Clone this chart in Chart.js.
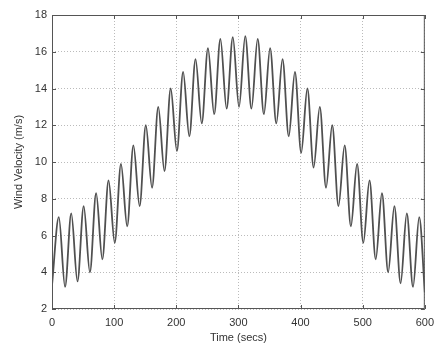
<!DOCTYPE html>
<html>
<head>
<meta charset="utf-8">
<script src="https://cdn.jsdelivr.net/npm/chart.js@4"></script>
<style>
  html, body { margin: 0; padding: 0; background: #fff; }
  #wrap { width: 441px; height: 349px; }
</style>
</head>
<body>
<div id="wrap"><canvas id="windChart" width="441" height="349"></canvas></div>
<script>
// peaks and troughs (time in secs, velocity in m/s)
const times = [0, 11, 21, 31, 41, 51, 61, 71, 81, 91, 101, 111, 121, 131, 141, 151, 161, 171, 181, 191,
  201, 211, 221, 231, 241, 251, 261, 271, 281, 291, 301, 311, 321, 331, 341, 351, 361, 371, 381, 391,
  401, 411, 421, 431, 441, 451, 461, 471, 481, 491, 501, 511, 521, 531, 541, 551, 561, 571, 581, 591, 600];
const velocity = [3.3, 7.0, 3.2, 7.2, 3.5, 7.6, 4.0, 8.3, 4.7, 9.0, 5.6, 9.9, 6.5, 10.9, 7.6, 12.0, 8.6, 13.0, 9.5, 14.0,
  10.6, 14.9, 11.4, 15.6, 12.1, 16.2, 12.6, 16.7, 12.9, 16.8, 13.0, 16.85, 12.9, 16.7, 12.6, 16.2, 12.1, 15.6, 11.4, 14.9,
  10.5, 14.0, 9.7, 13.0, 8.6, 12.0, 7.6, 10.9, 6.5, 9.9, 5.6, 9.0, 4.7, 8.3, 4.0, 7.6, 3.4, 7.2, 3.2, 7.0, 2.9];
const xTicks = [0, 100, 200, 300, 400, 500, 600];
const yTicks = [2, 4, 6, 8, 10, 12, 14, 16, 18];

const points = times.map((t, i) => ({ x: t, y: velocity[i] }));

// box round the plot area plus small inward ticks, like matlab
const boxPlugin = {
  id: "box",
  afterDraw(chart) {
    const { ctx, chartArea: a, scales } = chart;
    ctx.save();
    ctx.strokeStyle = "#555";
    ctx.lineWidth = 1;
    ctx.strokeRect(a.left + 0.5, a.top + 0.5, a.right - a.left - 1, a.bottom - a.top - 1);
    ctx.beginPath();
    xTicks.forEach(v => {
      const x = Math.round(scales.x.getPixelForValue(v)) + 0.5;
      ctx.moveTo(x, a.bottom); ctx.lineTo(x, a.bottom - 4);
      ctx.moveTo(x, a.top); ctx.lineTo(x, a.top + 4);
    });
    yTicks.forEach(v => {
      const y = Math.round(scales.y.getPixelForValue(v)) + 0.5;
      ctx.moveTo(a.left, y); ctx.lineTo(a.left + 4, y);
      ctx.moveTo(a.right, y); ctx.lineTo(a.right - 4, y);
    });
    ctx.stroke();
    ctx.restore();
  }
};

const font = { family: "'Liberation Sans', Arial, sans-serif", size: 11 };

new Chart(document.getElementById("windChart"), {
  type: "line",
  data: {
    datasets: [{
      data: points,
      borderColor: "#505050",
      borderWidth: 1.8,
      pointRadius: 0,
      fill: false,
      cubicInterpolationMode: "monotone"
    }]
  },
  options: {
    responsive: false,
    animation: false,
    layout: { padding: { top: 15, right: 14, left: 0, bottom: 0 } },
    plugins: { legend: { display: false }, tooltip: { enabled: false } },
    scales: {
      x: {
        type: "linear",
        min: 0,
        max: 600,
        afterBuildTicks: s => { s.ticks = xTicks.map(v => ({ value: v })); },
        afterFit: s => { s.height = 40; },
        grid: { color: "#bbb", drawTicks: false },
        border: { display: false, dash: [1, 2] },
        ticks: { font, color: "#333", padding: 7, maxRotation: 0 },
        title: { display: true, text: "Time (secs)", font, color: "#333", padding: { top: 4 } }
      },
      y: {
        min: 2,
        max: 18,
        afterBuildTicks: s => { s.ticks = yTicks.map(v => ({ value: v })); },
        afterFit: s => { s.width = 52; },
        grid: { color: "#bbb", drawTicks: false },
        border: { display: false, dash: [1, 2] },
        ticks: { font, color: "#333", padding: 5 },
        title: { display: true, text: "Wind Velocity (m/s)", font, color: "#333", padding: { top: 12, bottom: 0 } }
      }
    }
  },
  plugins: [boxPlugin]
});
</script>
</body>
</html>
